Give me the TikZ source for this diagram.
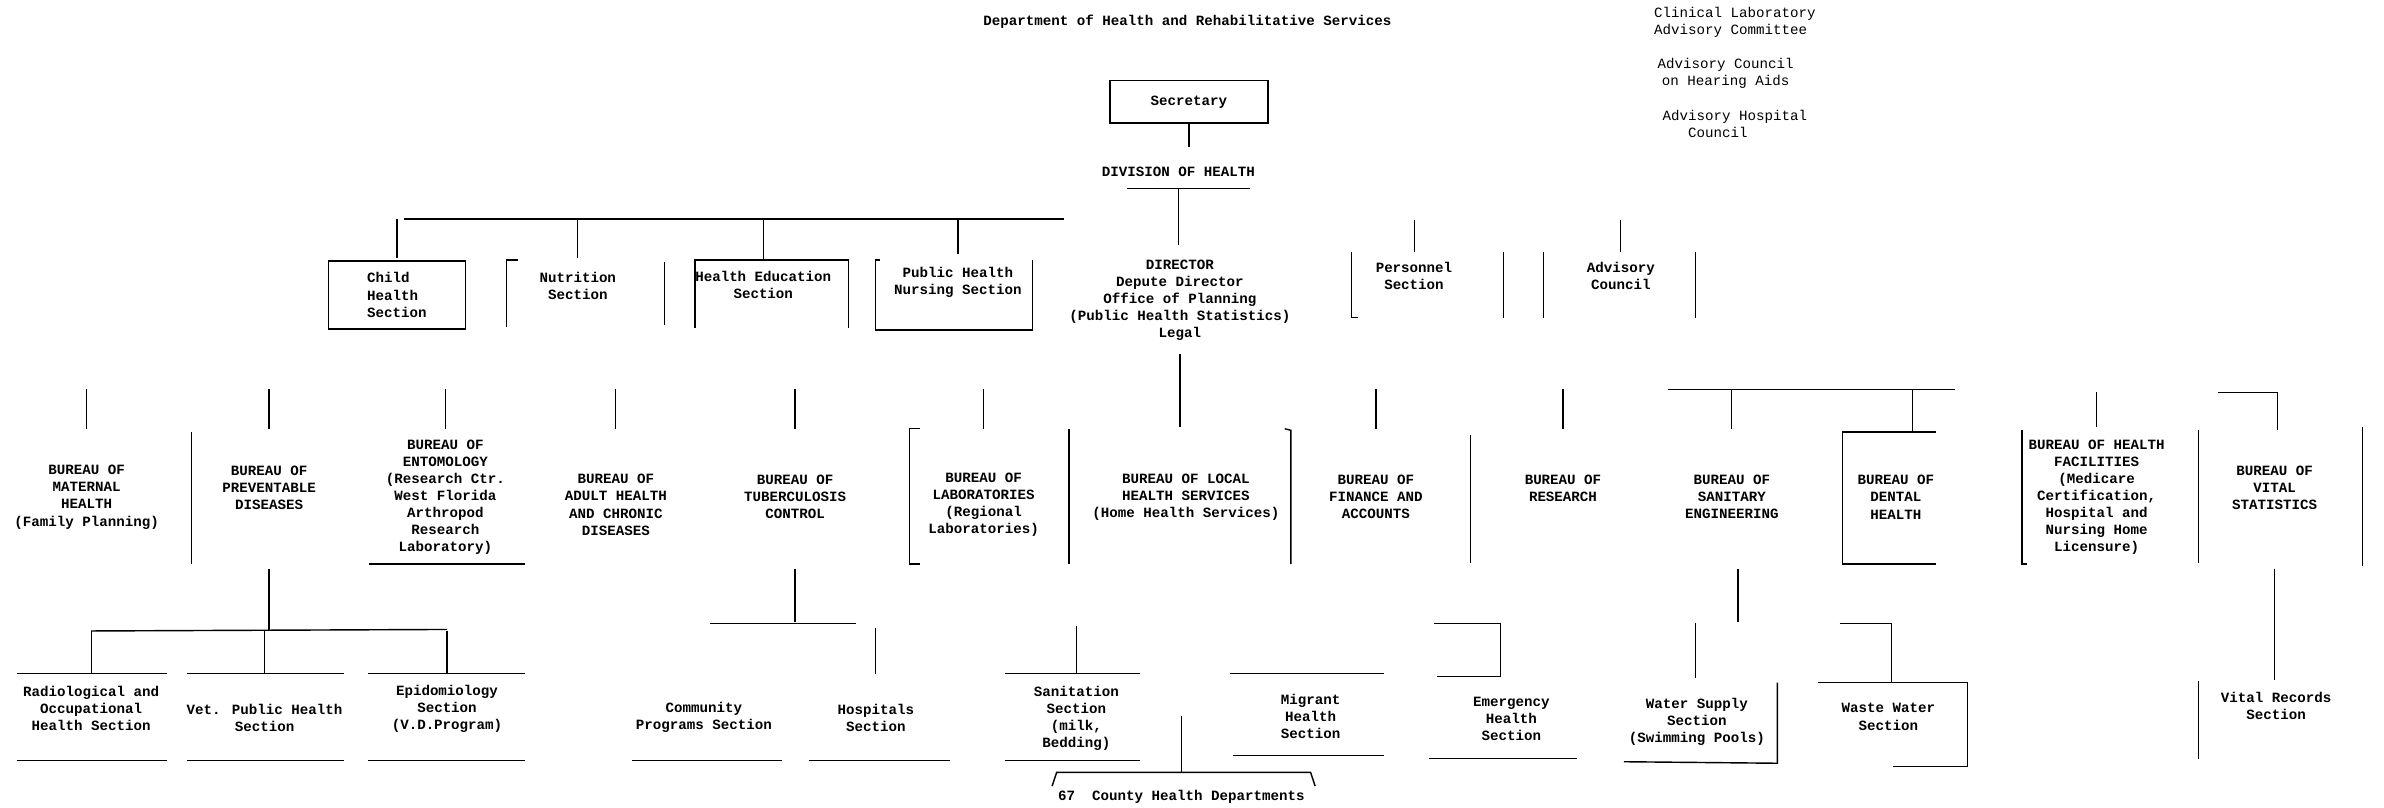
\documentclass[tikz,border=0pt]{standalone}
\usepackage{fontspec}
\setmainfont{Liberation Mono}
\begin{document}
\begin{tikzpicture}[x=1.0735pt,y=-1.0735pt,line width=1pt,
	lbl/.style={font=\fontsize{10}{12.1}\selectfont\bfseries,align=center,inner sep=0pt},
	note/.style={lbl,font=\fontsize{10}{12.1}\selectfont},
	thin/.style={line width=0.6pt}]
	\useasboundingbox (0,0) rectangle (1568,531);

	\node (dept) [lbl] at (781,14) {Department of Health and Rehabilitative Services};
	\node (clac) [note,align=left] at (1141,14.5) {Clinical Laboratory\\Advisory Committee};
	\node (ahear) [note] at (1135,48) {Advisory Council\\on Hearing Aids};
	\node (ahosp) [note,align=left] at (1141,81.5) {Advisory Hospital\\\hspace*{18pt}Council};

	\node (sec) [lbl,draw,minimum width=111.6pt,minimum height=30pt] at (782,67) {Secretary};
	\node (div) [lbl] at (775,113) {DIVISION OF HEALTH};

	\node (child) [lbl,draw,align=left,minimum width=96.6pt,minimum height=47.8pt] at (261,194) {Child\\Health\\Section};
	\node (nut) [lbl] at (380,188) {Nutrition\\Section};
	\node (hed) [lbl] at (502,187.5) {Health Education\\Section};
	\node (phn) [lbl] at (630,186) {Public Health\\Nursing Section};
	\node (dir) [lbl] at (776,197.5) {DIRECTOR\\Depute Director\\Office of Planning\\(Public Health Statistics)\\Legal};
	\node (pers) [lbl] at (930,181.5) {Personnel\\Section};
	\node (adv) [lbl] at (1066,181.5) {Advisory\\Council};

	\node (mat) [lbl] at (57,327) {BUREAU OF\\MATERNAL\\HEALTH\\(Family Planning)};
	\node (prev) [lbl] at (177,321) {BUREAU OF\\PREVENTABLE\\DISEASES};
	\node (ento) [lbl] at (293,327) {BUREAU OF\\ENTOMOLOGY\\(Research Ctr.\\West Florida\\Arthropod\\Research\\Laboratory)};
	\node (adult) [lbl] at (405,332) {BUREAU OF\\ADULT HEALTH\\AND CHRONIC\\DISEASES};
	\node (tb) [lbl] at (523,327) {BUREAU OF\\TUBERCULOSIS\\CONTROL};
	\node (lab) [lbl] at (647,332) {BUREAU OF\\LABORATORIES\\(Regional\\Laboratories)};
	\node (local) [lbl] at (780,327) {BUREAU OF LOCAL\\HEALTH SERVICES\\(Home Health Services)};
	\node (fin) [lbl] at (905,327) {BUREAU OF\\FINANCE AND\\ACCOUNTS};
	\node (res) [lbl] at (1028,321) {BUREAU OF\\RESEARCH};
	\node (san) [lbl] at (1139,327) {BUREAU OF\\SANITARY\\ENGINEERING};
	\node (dent) [lbl] at (1247,327) {BUREAU OF\\DENTAL\\HEALTH};
	\node (hf) [lbl] at (1379,327) {BUREAU OF HEALTH\\FACILITIES\\(Medicare\\Certification,\\Hospital and\\Nursing Home\\Licensure)};
	\node (vs) [lbl] at (1496,321) {BUREAU OF\\VITAL\\STATISTICS};

	\node (rad) [lbl] at (60,466) {Radiological and\\Occupational\\Health Section};
	\node (vet) [lbl] at (174,472) {Vet. Public Health\\Section};
	\node (epi) [lbl] at (294,466) {Epidomiology\\Section\\(V.D.Program)};
	\node (comm) [lbl] at (463,472) {Community\\Programs Section};
	\node (hosp) [lbl] at (576,472) {Hospitals\\Section};
	\node (sanit) [lbl] at (708,472.5) {Sanitation\\Section\\(milk,\\Bedding)};
	\node (migr) [lbl] at (862,471) {Migrant\\Health\\Section};
	\node (emer) [lbl] at (994,473) {Emergency\\Health\\Section};
	\node (wsup) [lbl] at (1116,475) {Water Supply\\Section\\(Swimming Pools)};
	\node (wwat) [lbl] at (1242,471.5) {Waste Water\\Section};
	\node (vrec) [lbl] at (1497,464.5) {Vital Records\\Section};
	\node (county) [lbl] at (777,524) {67\ \ County Health Departments};

	\draw (sec.south) -- ++(0,15);
	\draw (741,124) -- (822,124);
	\draw (div.south |- 0,124) -- (div.south |- 0,161);
	\coordinate (bar) at (266,144);
	\draw (bar) -- (700,144);
	\foreach \n/\y in {child/170,nut/170,hed/171,phn/167}
		\draw (\n.north |- bar) -- (\n.north |- 0,\y);
	\foreach \n in {pers,adv}
		\draw[thin] (\n.north |- 0,145) -- (\n.north |- 0,166);
	\draw (341,171) -- (333,171) -- (333,215);
	\draw (437,172) -- (437,214);
	\draw (457,216) -- (457,171) -- (558,171) -- (558,216);
	\draw (579,171) -- (576,171) -- (576,217) -- (679,217) -- (679,171);
	\draw (889,166) -- (889,209) -- (893,209);
	\draw (989,166) -- (989,209);
	\draw (1015,166) -- (1015,209);
	\draw (1115,166) -- (1115,209);

	\draw (dir.south |- 0,233) -- (dir.south |- 0,281);
	\foreach \n in {mat,prev,ento,adult,tb,lab,fin,res}
		\draw (\n.north |- 0,256) -- (\n.north |- 0,282);
	\draw (126,284) -- (126,371);
	\draw (243,371) -- (345,371);
	\draw (605,282) -- (598,282) -- (598,371) -- (605,371);
	\draw (703,282) -- (703,371);
	\draw (845,282) -- (849,283) -- (849,371);
	\draw (967,286) -- (967,370);
	\draw (1097,256) -- (1286,256);
	\draw (san.north |- 0,256) -- (san.north |- 0,282);
	\draw (1258,256) -- (1258,284);
	\draw (1273,284) -- (1212,284) -- (1212,371) -- (1273,371);
	\draw (hf.north |- 0,258) -- (hf.north |- 0,281);
	\draw (1330,283) -- (1330,371) -- (1333,371);
	\draw (1446,283) -- (1446,370);
	\draw (1459,258) -- (1498,258) -- (1498,283);
	\draw (1554,281) -- (1554,372);

	\coordinate (pbar) at (60,415);
	\draw (prev.south |- 0,374) -- (prev.south |- pbar);
	\draw (pbar) -- (294,414);
	\foreach \n/\a/\b in {rad/11/110,vet/123/226,epi/242/345} {
		\draw (\n.north |- pbar) -- (\n.north |- 0,443);
		\draw (\a,443) -- (\b,443);
		\draw (\a,500) -- (\b,500);
	}
	\draw (tb.south |- 0,374) -- (tb.south |- 0,409);
	\draw (467,410) -- (563,410);
	\draw[thin] (hosp.north |- 0,413) -- (hosp.north |- 0,443);
	\draw (416,500) -- (514,500);
	\draw (532,500) -- (625,500);
	\draw (sanit.north |- 0,412) -- (sanit.north |- 0,443);
	\draw (661,443) -- (750,443);
	\draw (661,500) -- (750,500);
	\draw (809,443) -- (910,443);
	\draw (811,497) -- (910,497);
	\draw (county.north |- 0,471) -- (county.north |- 0,508);
	\draw (692,517) -- (695,508) -- (862,508) -- (865,517);
	\draw (943,410) -- (987,410) -- (987,445) -- (945,445);
	\draw (940,499) -- (1037,499);
	\draw (1143,374) -- (1143,409);
	\draw (1115,410) -- (1115,446);
	\draw (1169,449) -- (1169,502) -- (1068,501);
	\draw (1210,410) -- (1244,410) -- (1244,449);
	\draw (1196,449) -- (1294,449) -- (1294,504) -- (1245,504);
	\draw (vs.south |- 0,374) -- (vs.south |- 0,447);
	\draw (1446,448) -- (1446,499);
\end{tikzpicture}
\end{document}
